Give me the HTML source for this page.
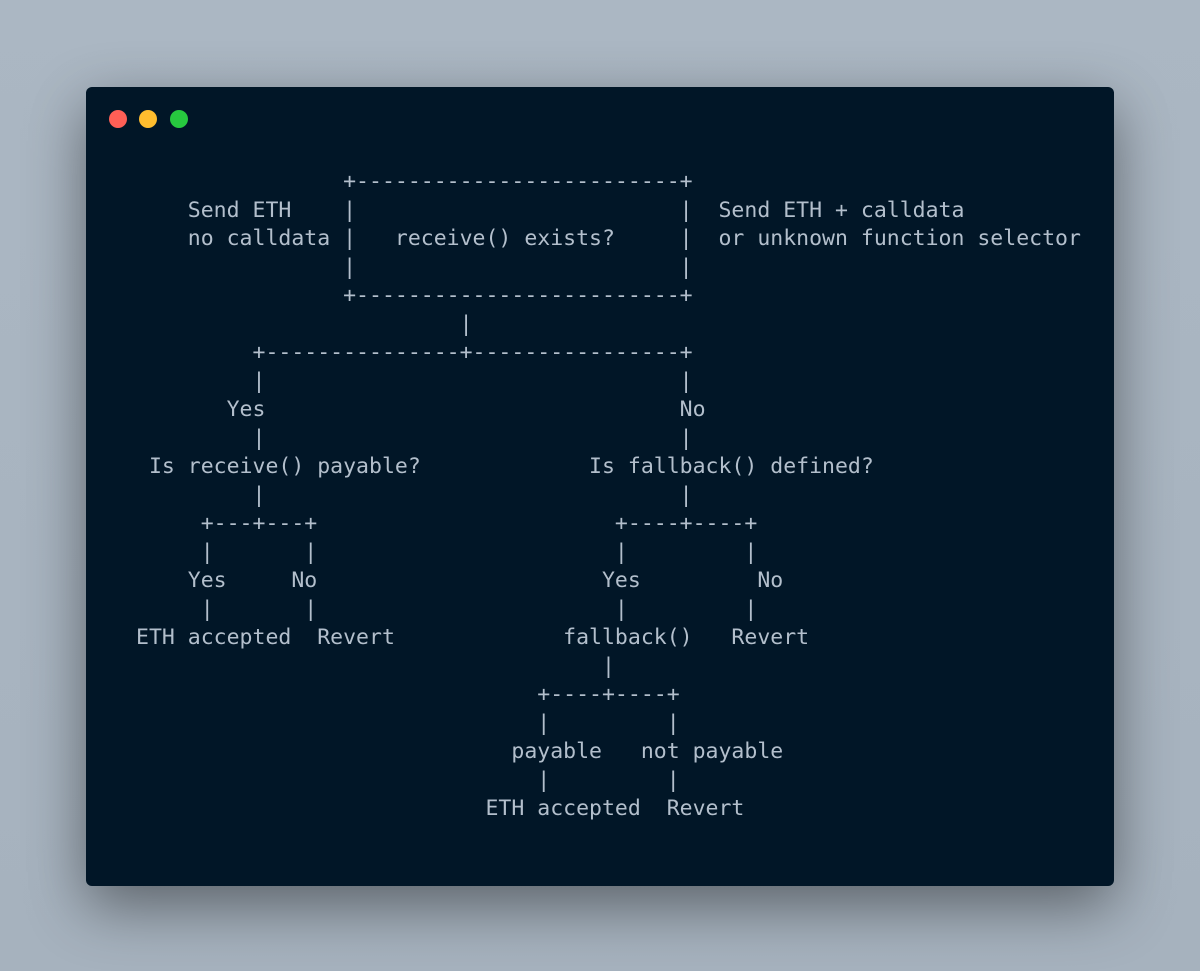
<!DOCTYPE html>
<html><head><meta charset="utf-8"><style>
html,body{margin:0;padding:0;width:1200px;height:971px;overflow:hidden;background:linear-gradient(180deg,#abb7c3,#a6b2be);}
.win{position:absolute;left:86px;top:87px;width:1028px;height:799px;background:#011627;border-radius:6px;box-shadow:0 20px 60px rgba(0,0,0,0.45);}
.dot{position:absolute;top:110px;width:18px;height:18px;border-radius:50%;}
pre{position:absolute;left:136px;top:168px;margin:0;font-family:"DejaVu Sans Mono","Liberation Mono",monospace;font-size:21.5px;line-height:28.5px;color:#b3bfcc;}
</style></head><body>
<div class="win"></div>
<div class="dot" style="left:109px;background:#ff5f56"></div>
<div class="dot" style="left:139px;background:#ffbd2e"></div>
<div class="dot" style="left:170px;background:#27c93f"></div>
<pre>                +-------------------------+
    Send ETH    |                         |  Send ETH + calldata
    no calldata |   receive() exists?     |  or unknown function selector
                |                         |
                +-------------------------+
                         |
         +---------------+----------------+
         |                                |
       Yes                                No
         |                                |
 Is receive() payable?             Is fallback() defined?
         |                                |
     +---+---+                       +----+----+
     |       |                       |         |
    Yes     No                      Yes         No
     |       |                       |         |
ETH accepted  Revert             fallback()   Revert
                                    |
                               +----+----+
                               |         |
                             payable   not payable
                               |         |
                           ETH accepted  Revert</pre>
</body></html>
